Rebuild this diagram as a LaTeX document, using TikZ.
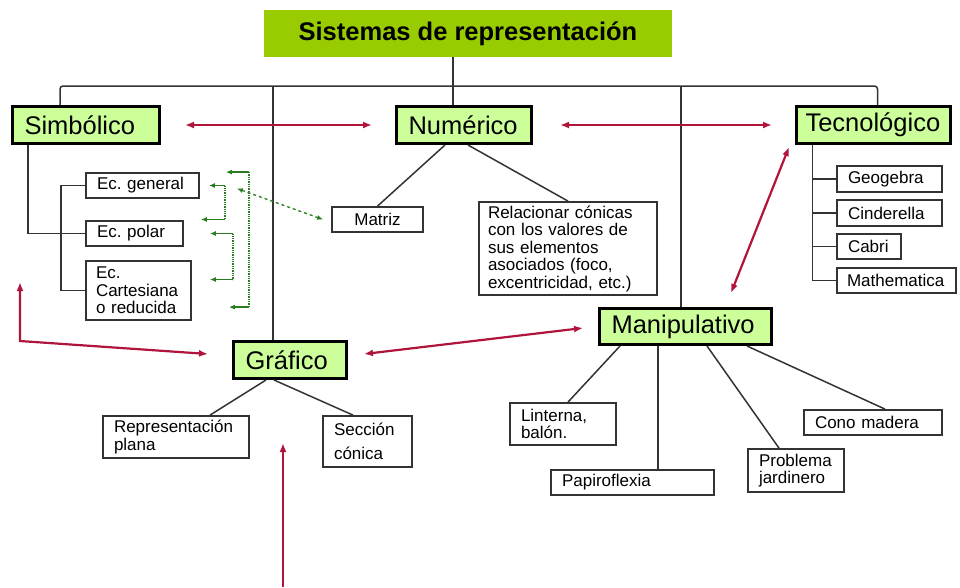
\documentclass[tikz,border=0pt]{standalone}
\usepackage{fontspec}
\setmainfont{Liberation Sans}
\usetikzlibrary{arrows.meta}
\frenchspacing

\definecolor{TitleGreen}{RGB}{153,204,0}
\definecolor{MainGreen}{RGB}{204,255,153}
\definecolor{LinkRed}{RGB}{176,20,58}
\definecolor{LinkGreen}{RGB}{40,125,30}
\definecolor{LineGray}{RGB}{51,51,51}

\begin{document}
\begin{tikzpicture}[
    x=1pt, y=-1pt,
    title/.style={fill=TitleGreen, minimum width=408pt, minimum height=47pt, font=\fontsize{25.5}{28}\selectfont\bfseries},
    main/.style={draw=black, line width=3pt, fill=MainGreen, inner xsep=12pt, minimum height=37pt, align=left, font=\fontsize{25.5}{28}\selectfont},
    small/.style={draw=LineGray, line width=1.8pt, fill=white, inner xsep=11pt, minimum height=25pt, align=left, font=\fontsize{17}{17.5}\selectfont},
    conn/.style={draw=LineGray, line width=1.5pt},
    redlink/.style={draw=LinkRed, line width=2.2pt, {Latex[length=9pt,width=7pt]}-{Latex[length=9pt,width=7pt]}},
    greenlink/.style={draw=LinkGreen, line width=1.3pt}
  ]
    \useasboundingbox (0,0) rectangle (960,587);

    % Titulo
    \node[title] (title) at (468,33.5) {Sistemas de representación};

    % Sistemas principales
    \node[main, text width=123pt] (simb) at (86,125) {Simbólico};
    \node[main, text width=111pt] (num) at (464,125) {Numérico};
    \node[main, inner xsep=9pt, text width=136pt] (tec) at (873.5,125) {Tecnológico};
    \node[main, text width=89pt] (graf) at (290,360) {Gráfico};
    \node[main, text width=148pt, minimum height=36pt] (manip) at (685.5,326.5) {Manipulativo};

    % Simbolico
    \node[small, text width=91pt] (egen) at (142.5,185.5) {Ec. general};
    \node[small, text width=75pt] (epol) at (134.5,233.5) {Ec. polar};
    \node[small, inner xsep=10pt, text width=85pt, minimum height=59pt] (ecart) at (138.5,290.5) {Ec.\\Cartesiana\\o reducida};

    % Numerico
    \node[small, text width=69pt, align=center] (matriz) at (377.5,219.5) {Matriz};
    \node[small, inner xsep=9pt, text width=160pt, minimum height=93pt] (relac) at (568,248.5) {Relacionar cónicas\\con los valores de\\sus elementos\\asociados (foco,\\excentricidad, etc.)};

    % Tecnologico
    \node[small, text width=83pt, minimum height=26pt] (geo) at (889.5,179) {Geogebra};
    \node[small, text width=83pt, minimum height=26pt] (cind) at (889.5,213) {Cinderella};
    \node[small, text width=42pt] (cabri) at (869,246.5) {Cabri};
    \node[small, inner xsep=10pt, text width=99pt] (math) at (896.5,280.5) {Mathematica};

    % Grafico
    \node[small, text width=124pt, minimum height=42pt] (repr) at (176,437) {Representación\\plana};
    \node[small, text width=67pt, minimum height=51pt] (secc) at (367.5,441.5) {Sección\\[7pt]cónica};

    % Manipulativo
    \node[small, text width=84pt, minimum height=42pt] (lint) at (563,424) {Linterna,\\balón.};
    \node[small, text width=141pt] (papi) at (632.5,482.5) {Papiroflexia};
    \node[small, text width=74pt, minimum height=43pt] (prob) at (796,470.5) {Problema\\jardinero};
    \node[small, text width=116pt] (cono) at (873,422.5) {Cono madera};

    % Arbol
    \coordinate (bus) at (453,86);
    \draw[conn] (title.south -| bus) -- (num.north -| bus);
    \draw[conn, rounded corners=3pt] ([xshift=-26pt]simb.north) |- (bus) -| ([xshift=4pt]tec.north);
    \draw[conn] ([xshift=-17pt]graf.north) -- ++(0,-254);
    \draw[conn] ([xshift=-4.5pt]manip.north) -- ++(0,-221);

    \draw[conn] ([xshift=-58pt]simb.south) |- (epol.west);
    \draw[conn] (egen.west) -- ++(-24,0) |- (ecart.west);

    \draw[conn] ([xshift=-19pt]num.south) -- (matriz.north);
    \draw[conn] ([xshift=4pt]num.south) -- (relac.north);

    \draw[conn] ([xshift=-61pt]tec.south) |- (math.west);
    \foreach \n in {geo,cind,cabri}
      \draw[conn] (\n.west) -- ++(-23,0);

    \draw[conn] ([xshift=-24pt]graf.south) -- ([xshift=34pt]repr.north);
    \draw[conn] ([xshift=-16pt]graf.south) -- ([xshift=-14.5pt]secc.north);

    \draw[conn] ([xshift=-65.5pt]manip.south) -- ([xshift=5pt]lint.north);
    \draw[conn] ([xshift=-27.5pt]manip.south) -- ([xshift=25.5pt]papi.north);
    \draw[conn] ([xshift=21.5pt]manip.south) -- ([xshift=-17pt]prob.north);
    \draw[conn] ([xshift=61.5pt]manip.south) -- ([xshift=12pt]cono.north);

    % Relaciones entre sistemas
    \draw[redlink] ([xshift=24pt]simb.east) -- ([xshift=-23pt]num.west);
    \draw[redlink] ([xshift=27pt]num.east) -- ([xshift=-23pt]tec.west);
    \draw[redlink] ([xshift=-84.5pt,yshift=-2pt]tec.south) -- ([xshift=45.5pt,yshift=14pt]manip.north);
    \draw[redlink] ([xshift=16pt,yshift=6pt]graf.east) -- ([xshift=-15pt,yshift=-1.5pt]manip.west);
    \coordinate (simbtip) at (20,282);
    \draw[redlink] (simbtip) -- ++(0,59) -- ([xshift=-24pt,yshift=6pt]graf.west);
    \coordinate (grafbase) at (283,587);
    \coordinate (graftip) at (283,443);
    \draw[redlink, {Latex[length=9pt,width=7pt]}-] (graftip) -- (grafbase);

    % Equivalencias entre ecuaciones
    \draw[greenlink, {Latex[length=6pt,width=5pt]}-] ([xshift=26pt]egen.north east) -- ++(23,0) coordinate (a1);
    \draw[greenlink, densely dotted] (a1) -- ++(0,135) coordinate (a2);
    \draw[greenlink, -{Latex[length=6pt,width=5pt]}] (a2) -- ++(-20,0);

    \draw[greenlink, {Latex[length=6pt,width=5pt]}-] ([xshift=9pt]egen.east) -- ++(16,0) coordinate (b1);
    \draw[greenlink, densely dotted] (b1) -- ++(0,34) coordinate (b2);
    \draw[greenlink, -{Latex[length=6pt,width=5pt]}] (b2) -- ++(-24,0);

    \draw[greenlink, {Latex[length=6pt,width=5pt]}-] ([xshift=26pt]epol.east) -- ++(23,0) coordinate (c1);
    \draw[greenlink, densely dotted] (c1) -- ++(0,46) coordinate (c2);
    \draw[greenlink, -{Latex[length=6pt,width=5pt]}] (c2) -- ++(-23,0);

    \draw[greenlink, dashed, {Latex[length=6pt,width=5pt]}-{Latex[length=6pt,width=5pt]}] ([xshift=37pt,yshift=-3pt]egen.east) -- ([xshift=-8pt]matriz.west);
  \end{tikzpicture}
\end{document}
